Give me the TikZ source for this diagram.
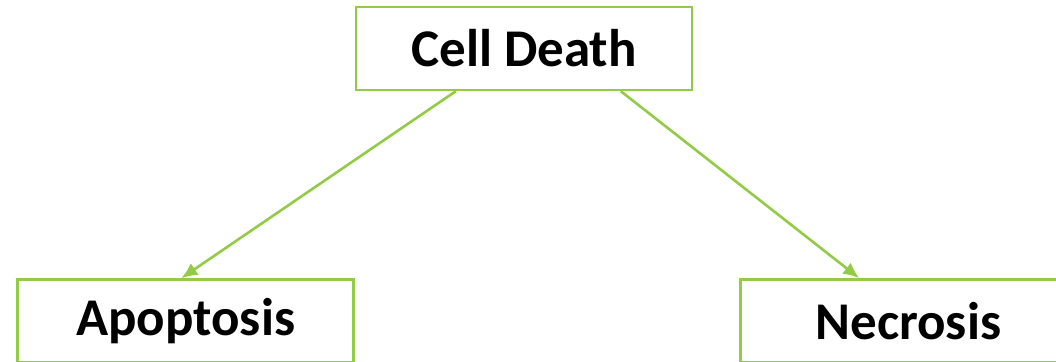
\documentclass[tikz,border=0pt]{standalone}
\usepackage{fontspec}
\setmainfont{Carlito}
\usepackage{xcolor}
\usetikzlibrary{positioning,arrows.meta}

\definecolor{leafgreen}{RGB}{146,204,70}

\begin{document}
\begin{tikzpicture}[x=1pt, y=1pt, >={Latex[length=16pt,width=14pt]}]
    \tikzstyle{block}=[rectangle, draw=leafgreen, line width=2.4pt, align=center, minimum width=336pt, minimum height=83pt, inner sep=0pt, font=\fontsize{53}{60}\selectfont\bfseries]
    \tikzstyle{link}=[->, draw=leafgreen, line width=2.6pt, fill=leafgreen]

    \useasboundingbox (0,0) rectangle (1056,361);

    \node[block] (cd) at (524,312.5) {Cell Death};
    \node[block, below left=187pt and 0pt of cd] (apo) {Apoptosis};
    \node[block, below right=187pt and 46pt of cd] (nec) {Necrosis};

    \draw[link] ([xshift=101pt]cd.south west) -- ([xshift=165pt]apo.north west);
    \draw[link] ([xshift=266pt]cd.south west) -- ([xshift=120pt]nec.north west);
\end{tikzpicture}
\end{document}
